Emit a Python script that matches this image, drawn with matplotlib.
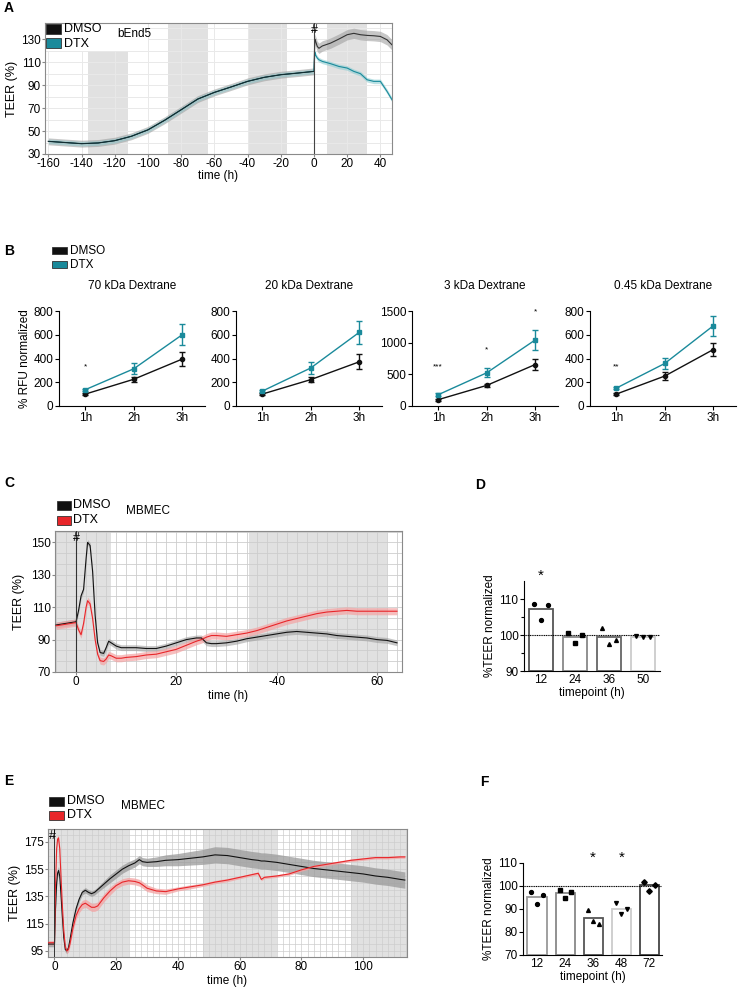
import numpy as np
import matplotlib
matplotlib.use("Agg")
import matplotlib.pyplot as plt
from matplotlib.patches import Rectangle
from matplotlib.ticker import FixedLocator

plt.rcParams['font.family'] = ['Liberation Sans', 'DejaVu Sans']
plt.rcParams['axes.unicode_minus'] = False

# ---------------- DATA ----------------
# Panel A (bEnd5)
A_t_pre = [-160, -150, -140, -130, -120, -110, -100, -90, -80, -70, -60, -50, -40, -30, -20, -10, 0]
A_pre = [41, 40, 39, 39.6, 41.6, 45.4, 51, 59.3, 68.5, 77.8, 83.6, 88.3, 93.2, 96.7, 99, 100.4, 101.9]
A_t_post = [0, 0.5, 1, 2, 3, 5, 10, 15, 20, 24, 28, 32, 36, 40, 44, 47]
A_dmso_post = [102, 130, 128, 123.6, 122, 124, 126.5, 130, 133.8, 135, 133.8, 133.2, 132.9, 132.3, 129.4, 125]
A_dtx_post = [102, 118.7, 116, 113.5, 112, 110.6, 108.6, 106.2, 104.8, 101.9, 99.9, 94.6, 93.2, 93.2, 84.5, 77.2]
A_sd_dmso_pre, A_sd_dtx_pre = 3.0, 2.0
A_sd_dmso_post, A_sd_dtx_post = 4.5, 2.0
A_bands = [(-136, -112), (-88, -64), (-40, -16), (8, 32)]

# Panel B (dextrane permeability)
B_titles = ['70 kDa Dextrane', '20 kDa Dextrane', '3 kDa Dextrane', '0.45 kDa Dextrane']
B_x = [1, 2, 3]
B_xlabels = ['1h', '2h', '3h']
B_dmso = [[100, 225, 395], [100, 222, 372], [100, 325, 655], [100, 252, 475]]
B_dmso_err = [[8, 20, 56], [8, 20, 62], [15, 30, 90], [8, 35, 55]]
B_dtx = [[137, 313, 600], [125, 320, 620], [178, 524, 1043], [150, 358, 675]]
B_dtx_err = [[10, 45, 88], [10, 48, 100], [20, 70, 160], [10, 50, 85]]
B_ylim = [800, 800, 1500, 800]
B_yticks = [[0, 200, 400, 600, 800], [0, 200, 400, 600, 800], [0, 500, 1000, 1500], [0, 200, 400, 600, 800]]
B_stars = [[(1, 330, '*')], [], [(1, 619, '***'), (2, 891, '*'), (3, 1484, '*')], [(1, 330, '**')]]

# Panel C (MBMEC)
C_t = [-4, -2, 0, 0.5, 1, 1.5, 2, 2.3, 2.8, 3.3, 3.8, 4.3, 4.8, 5.5, 6, 6.5, 7, 8, 9, 10, 12, 14, 16, 18, 20,
       22, 24, 25, 26, 27, 28, 30, 32, 34, 36, 38, 40, 42, 44, 46, 48, 50, 52, 54, 56, 58, 60, 62, 64]
C_dmso = [99, 100, 101, 108, 117, 121, 140, 150, 148, 132, 105, 88, 82, 81.5, 85, 89, 88, 86, 85, 85, 85, 84.5,
          84.5, 86, 88, 90, 91, 91, 88, 87.5, 87.5, 88, 89, 90.5, 91.5, 92.5, 93.5, 94.5, 95, 94.5, 94, 93.5,
          92.5, 92, 91.5, 91, 90, 89.5, 88]
C_dtx = [98.5, 99.5, 100.5, 96, 93, 100, 110, 114, 112, 103, 90, 81, 77, 76.5, 78, 80.5, 80, 78.5, 78.5, 79,
         79.5, 80.5, 81, 82.5, 84, 86.5, 89, 90, 91.5, 92.5, 92.5, 92, 93, 94, 95.5, 97.5, 99.5, 101.5, 103,
         104.5, 106, 107, 107.5, 108, 107.5, 107.5, 107.5, 107.5, 107.5]
C_sd_dmso, C_sd_dtx = 1.8, 2.2
C_bands = [(-5, 7), (34.5, 62)]
C_xticks = [0, 20, 40, 60]
C_xticklabels = ['0', '20', '-40', '60']

# Panel D
D_cats = ['12', '24', '36', '50']
D_bars = [107.1, 99.4, 99.4, 99.5]
D_pts = [[108.6, 108.3, 104.2], [100.5, 100.0, 97.9], [101.9, 98.6, 97.5], [99.8, 99.5, 99.5]]
D_markers = ['o', 's', '^', 'v']
D_edge = ['#555555', '#888888', '#666666', '#cccccc']
D_stars = [(0, '*')]

# Panel E (MBMEC)
E_t = [-2, -1, 0, 0.3, 0.7, 1, 1.3, 1.7, 2, 2.5, 3, 3.5, 4, 4.5, 5, 6, 7, 8, 9, 10, 11, 12, 13, 14, 16, 18, 20,
       22, 24, 26, 27.5, 28.5, 30, 33, 36, 40, 44, 48, 52, 56, 60, 64, 66, 67, 68, 72, 76, 80, 84, 88, 92, 96,
       100, 104, 108, 112, 113.5]
E_dmso = [100, 100, 100, 125, 145, 152, 154, 150, 140, 122, 105, 96, 95, 97, 103, 116, 126, 133, 138, 139.5,
          138, 137, 138, 140, 144, 148, 151.5, 155, 157.5, 159.5, 162, 160.5, 160, 160.5, 161.5, 162, 163, 164,
          165.5, 165, 163.5, 162, 161.5, 161, 161, 160, 158.5, 157, 155.5, 154.5, 153.5, 152.5, 151.5, 150,
          149, 147.5, 147]
E_dtx = [101, 101, 101, 140, 170, 177, 178, 170, 155, 130, 110, 98, 95, 96, 100, 112, 121, 126, 129, 130,
         128.5, 127, 127, 128, 134, 139, 143, 145.5, 146.5, 146, 145, 143.5, 141, 139, 138.5, 140.5, 142, 143.5,
         145.5, 147, 149, 151, 152, 147.5, 149, 150, 151.5, 154.5, 157, 158.5, 160, 161.5, 162.5, 163.5,
         163.5, 164, 164]
E_sd_dmso = [2, 2, 2, 3, 3, 3, 3, 3, 3, 3, 3, 2, 2, 2, 2, 2, 2, 2, 2, 2, 2, 2, 2, 2, 2.5, 3, 3, 3, 3, 3, 3, 3,
             3, 3.5, 4, 4.5, 5, 5.5, 6, 6, 6, 6, 6, 6, 6, 6, 6, 6, 6, 6, 6, 6, 6, 6, 6, 6, 6]
E_sd_dtx = [1.5, 1.5, 1.5, 2, 2, 2, 2, 2, 2, 2, 2, 2, 2, 2, 2, 2.5, 3, 3, 3, 3, 3, 3, 3, 3, 3, 3, 2.5, 2.5,
            2.5, 2.5, 2.5, 2.5, 2.5, 2, 2, 1.5, 1.5, 1.2, 1.2, 1.2, 1, 1, 1, 1, 1, 1, 1, 1, 1, 1, 1, 1, 1, 1,
            1, 1, 1]
E_bands = [(-3, 24), (48, 72), (96, 116)]

# Panel F
F_cats = ['12', '24', '36', '48', '72']
F_bars = [95.1, 96.9, 86.0, 89.9, 100.4]
F_pts = [[97.3, 95.9, 92.3], [98.4, 97.3, 94.7], [89.7, 83.6, 84.6], [92.6, 90.0, 87.7], [101.9, 100.4, 97.7]]
F_markers = ['o', 's', '^', 'v', 'D']
F_edge = ['#999999', '#888888', '#555555', '#cccccc', '#444444']
F_stars = [(2, '*'), (3, '*')]

# ---------------- STYLE ----------------
BLACK = '#111111'
TEAL = '#1a8a9b'
TEAL_BAND = '#8fcdd2'
RED = '#e8262a'
RED_BAND = '#f4a3a3'
GRAY_BAND = '#9a9a9a'
BAND_BG = '#e1e1e1'

W, H = 739, 992
fig = plt.figure(figsize=(W / 100, H / 100), dpi=100)


def ax_px(l, t, r, b):
    return fig.add_axes([l / W, 1 - b / H, (r - l) / W, (b - t) / H])


def ftext(x, y, s, **kw):
    fig.text(x / W, 1 - y / H, s, **kw)


def fbox(x, y, w, h, color):
    fig.add_artist(Rectangle((x / W, 1 - (y + h) / H), w / W, h / H, transform=fig.transFigure,
                             facecolor=color, edgecolor='#333333', lw=0.6))


def frame(ax, color='#8a8a8a'):
    for s in ax.spines.values():
        s.set_color(color)
        s.set_linewidth(0.8)


def band_line(ax, t, y, sd, color, bandcolor, alpha=0.7, lw=0.8):
    t = np.asarray(t, float)
    y = np.asarray(y, float)
    sd = np.broadcast_to(np.asarray(sd, float), y.shape)
    ax.fill_between(t, y - sd, y + sd, color=bandcolor, alpha=alpha, lw=0, zorder=2)
    ax.plot(t, y, color=color, lw=lw, zorder=3)


# ---------------- PANEL A ----------------
axA = ax_px(45, 23, 392, 154)
axA.set_xlim(-162, 47)
axA.set_ylim(30, 144)
for a, b in A_bands:
    axA.axvspan(a, b, color=BAND_BG, lw=0, zorder=0)
axA.set_xticks(list(range(-160, 41, 20)))
axA.set_yticks([30, 50, 70, 90, 110, 130])
axA.yaxis.set_minor_locator(FixedLocator(np.arange(30, 145, 10)))
axA.grid(which='both', color='#e9e9e9', lw=0.7, zorder=0.5)
axA.set_axisbelow(True)
axA.add_patch(Rectangle((-162, 120), 62, 24, facecolor='white', edgecolor='none', zorder=1))
band_line(axA, A_t_pre, A_pre, A_sd_dmso_pre, BLACK, GRAY_BAND, alpha=0.55)
band_line(axA, A_t_pre, A_pre, A_sd_dtx_pre, TEAL, TEAL_BAND, alpha=0.5, lw=0.6)
axA.plot(A_t_pre, A_pre, color=BLACK, lw=0.5, zorder=4)
band_line(axA, A_t_post, A_dmso_post, A_sd_dmso_post, '#333333', GRAY_BAND, alpha=0.55)
band_line(axA, A_t_post, A_dtx_post, A_sd_dtx_post, TEAL, TEAL_BAND, alpha=0.6)
axA.axvline(0, color='#444444', lw=0.8, zorder=4)
axA.text(0, 138, '#', ha='center', va='center', fontsize=9, zorder=5)
axA.tick_params(labelsize=8.5, length=2, color='#888888', pad=1)
axA.tick_params(which='minor', length=0)
frame(axA)
axA.set_ylabel('TEER (%)', fontsize=9, labelpad=2)
axA.set_xlabel('time (h)', fontsize=8.5, labelpad=0)
fbox(46, 24, 15, 10, BLACK)
fbox(46, 38, 15, 10, TEAL)
ftext(64, 29, 'DMSO', fontsize=9, va='center')
ftext(64, 44, 'DTX', fontsize=9, va='center')
ftext(117, 34, 'bEnd5', fontsize=8.5, va='center')
ftext(4, 8, 'A', fontsize=10, fontweight='bold', va='center')

# ---------------- PANEL B ----------------
B_pos = [(59, 205), (236, 382), (412, 558), (590, 736)]
for i, (l, r) in enumerate(B_pos):
    ax = ax_px(l, 311, r, 406)
    ax.set_xlim(0.46, 3.47)
    ax.set_ylim(0, B_ylim[i])
    ax.errorbar(B_x, B_dmso[i], yerr=B_dmso_err[i], color=BLACK, marker='o', ms=3, lw=1,
                capsize=2, elinewidth=1, zorder=3)
    ax.errorbar(B_x, B_dtx[i], yerr=B_dtx_err[i], color=TEAL, marker='s', ms=3, lw=1,
                capsize=2, elinewidth=1, zorder=3)
    ax.set_xticks(B_x)
    ax.set_xticklabels(B_xlabels)
    ax.set_yticks(B_yticks[i])
    ax.spines['top'].set_visible(False)
    ax.spines['right'].set_visible(False)
    for s in ('left', 'bottom'):
        ax.spines[s].set_linewidth(0.8)
    ax.tick_params(labelsize=8.5, length=3, width=0.8, pad=1)
    ax.set_title(B_titles[i], fontsize=8.5, pad=16)
    for x, y, s in B_stars[i]:
        ax.text(x, y, s, ha='center', va='center', fontsize=6, clip_on=False)
    if i == 0:
        ax.set_ylabel('% RFU normalized', fontsize=8.5, labelpad=2)
ftext(4, 251, 'B', fontsize=10, fontweight='bold', va='center')
fbox(52, 247, 15, 7, BLACK)
fbox(52, 261, 15, 7, TEAL)
ftext(70, 251, 'DMSO', fontsize=8.5, va='center')
ftext(70, 265, 'DTX', fontsize=8.5, va='center')

# ---------------- PANEL C ----------------
axC = ax_px(55, 531, 402, 672)
axC.set_xlim(-4.2, 65)
axC.set_ylim(70, 157)
for a, b in C_bands:
    axC.axvspan(a, b, color=BAND_BG, lw=0, zorder=0)
axC.set_xticks(C_xticks)
axC.set_xticklabels(C_xticklabels)
axC.set_yticks([70, 90, 110, 130, 150])
axC.xaxis.set_minor_locator(FixedLocator(np.arange(-4, 66, 2)))
axC.yaxis.set_minor_locator(FixedLocator(np.arange(70, 157, 20 / 3)))
axC.grid(which='both', color='#cdcdcd', lw=0.6, zorder=0.5)
axC.set_axisbelow(True)
band_line(axC, C_t, C_dmso, C_sd_dmso, BLACK, GRAY_BAND, alpha=0.55)
band_line(axC, C_t, C_dtx, C_sd_dtx, RED, RED_BAND, alpha=0.7)
axC.axvline(0, color='#333333', lw=0.8, zorder=4)
axC.text(0, 152.5, '#', ha='center', va='center', fontsize=9, zorder=5)
axC.tick_params(labelsize=8.5, length=2, color='#888888', pad=1)
axC.tick_params(which='minor', length=0)
frame(axC)
axC.set_ylabel('TEER (%)', fontsize=9, labelpad=4)
axC.set_xlabel('time (h)', fontsize=8.5, labelpad=1)
ftext(4, 483, 'C', fontsize=10, fontweight='bold', va='center')
fbox(57, 501, 14, 9, BLACK)
fbox(57, 516, 14, 9, RED)
ftext(73, 505, 'DMSO', fontsize=9, va='center')
ftext(73, 520, 'DTX', fontsize=9, va='center')
ftext(126, 511, 'MBMEC', fontsize=8.5, va='center')


# ---------------- PANELS D & F ----------------
def bar_panel(ax, cats, bars, pts, markers, edges, stars, ylim, yticks, minor):
    x = np.arange(len(cats))
    ax.bar(x, [v - ylim[0] for v in bars], bottom=ylim[0], width=0.68, facecolor='white',
           edgecolor=edges, lw=1.3, zorder=2)
    for i, (vals, m) in enumerate(zip(pts, markers)):
        ax.plot(x[i] + np.array([-0.2, 0.2, 0.0]), vals, ls='none', marker=m, ms=2.8,
                color='black', zorder=3)
    ax.axhline(100, color='black', lw=0.8, ls=(0, (1, 0.6)), zorder=4)
    for i, s in stars:
        ax.text(x[i], ylim[1] + (ylim[1] - ylim[0]) * 0.06, s, ha='center', va='center',
                fontsize=11, clip_on=False)
    ax.set_ylim(*ylim)
    ax.set_yticks(yticks)
    ax.set_yticks(minor, minor=True)
    ax.set_xticks(x)
    ax.set_xticklabels(cats)
    ax.spines['top'].set_visible(False)
    ax.spines['right'].set_visible(False)
    for s in ('left', 'bottom'):
        ax.spines[s].set_linewidth(0.8)
    ax.tick_params(labelsize=8.5, length=3, width=0.8, pad=1)
    ax.tick_params(axis='x', length=0, pad=2)
    ax.tick_params(which='minor', length=2, width=0.8)
    ax.set_xlabel('timepoint (h)', fontsize=8.5, labelpad=1)
    ax.set_ylabel('%TEER normalized', fontsize=8.5, labelpad=2)


axD = ax_px(524, 581, 660, 671)
axD.set_xlim(-0.5, 3.5)
bar_panel(axD, D_cats, D_bars, D_pts, D_markers, D_edge, D_stars, (90, 115), [90, 100, 110], [95, 105])
ftext(475, 485, 'D', fontsize=10, fontweight='bold', va='center')

axF = ax_px(523, 863, 662, 955)
axF.set_xlim(-0.5, 4.45)
bar_panel(axF, F_cats, F_bars, F_pts, F_markers, F_edge, F_stars, (70, 110),
          [70, 80, 90, 100, 110], [])
ftext(480, 782, 'F', fontsize=10, fontweight='bold', va='center')

# ---------------- PANEL E ----------------
axE = ax_px(48, 829, 407, 957)
axE.set_xlim(-2.1, 114.2)
axE.set_ylim(90.5, 184.5)
for a, b in E_bands:
    axE.axvspan(a, b, color=BAND_BG, lw=0, zorder=0)
axE.set_xticks([0, 20, 40, 60, 80, 100])
axE.set_yticks([95, 115, 135, 155, 175])
axE.xaxis.set_minor_locator(FixedLocator(np.arange(-2, 115, 2)))
axE.yaxis.set_minor_locator(FixedLocator(np.arange(90, 185, 5)))
axE.grid(which='both', color='#cdcdcd', lw=0.5, zorder=0.5)
axE.set_axisbelow(True)
band_line(axE, E_t, E_dmso, E_sd_dmso, BLACK, GRAY_BAND, alpha=0.75)
band_line(axE, E_t, E_dtx, E_sd_dtx, RED, RED_BAND, alpha=0.75)
axE.axvline(0, color='#333333', lw=0.7, zorder=4)
axE.text(-0.6, 179.5, '#', ha='center', va='center', fontsize=9, zorder=5)
axE.tick_params(labelsize=8.5, length=2, color='#888888', pad=1)
axE.tick_params(which='minor', length=0)
frame(axE)
axE.set_ylabel('TEER (%)', fontsize=9, labelpad=2)
axE.set_xlabel('time (h)', fontsize=8.5, labelpad=1)
ftext(4, 781, 'E', fontsize=10, fontweight='bold', va='center')
fbox(49, 797, 15, 9, BLACK)
fbox(49, 811, 15, 9, RED)
ftext(67, 801, 'DMSO', fontsize=9, va='center')
ftext(67, 815, 'DTX', fontsize=9, va='center')
ftext(121, 806, 'MBMEC', fontsize=8.5, va='center')

fig.savefig('out.png', dpi=100, facecolor='white')
